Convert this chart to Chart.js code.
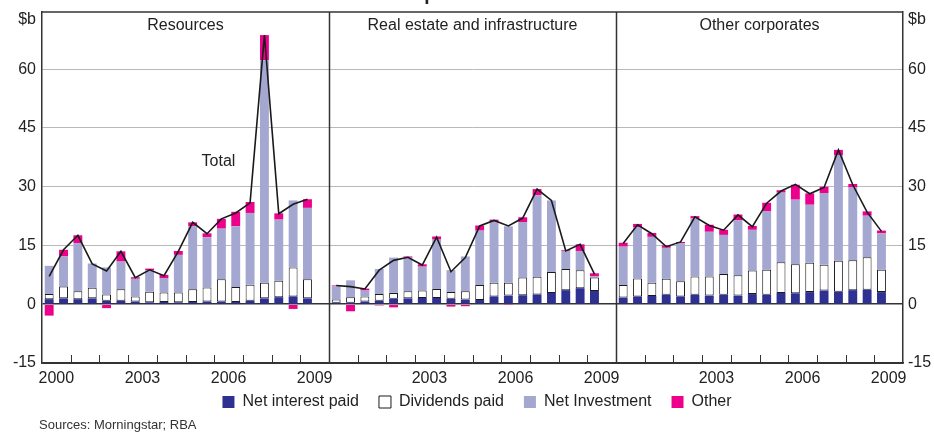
<!DOCTYPE html>
<html><head><meta charset="utf-8">
<script src="https://cdn.jsdelivr.net/npm/chart.js@4.4.1/dist/chart.umd.min.js"></script>
<style>html,body{margin:0;padding:0;background:#fff;}#wrap{width:934px;height:432px;}</style>
</head><body><div id="wrap"><canvas id="c" width="934" height="432"></canvas></div>
<script>
// ---- data ----
const chartTitle = "Listed Corporates' Uses of Funds";
const panelTitles = ['Resources', 'Real estate and infrastructure', 'Other corporates'];
const halfYears = ['2000 H1','2000 H2','2001 H1','2001 H2','2002 H1','2002 H2','2003 H1','2003 H2','2004 H1','2004 H2',
                   '2005 H1','2005 H2','2006 H1','2006 H2','2007 H1','2007 H2','2008 H1','2008 H2','2009 H1'];
const xTickLabels = [['2000','2003','2006','2009'], ['2003','2006','2009'], ['2003','2006','2009']];
const yTickValues = [-15, 0, 15, 30, 45, 60];

const resInterest   = [1.3,1.5,1.3,1.5,0.9,0.9,0.7,0.5,0.6,0.5,0.6,0.7,0.7,0.6,0.9,1.5,1.8,2.0,1.5];
const resDividends  = [1.3,3.0,2.0,2.7,1.6,2.9,1.3,2.7,2.4,2.5,3.2,3.6,5.7,3.8,4.1,4.0,4.2,7.4,4.9];
const resInvestment = [7.2,7.7,12.3,6.2,6.9,7.1,4.5,5.5,3.7,9.6,16.1,12.8,12.9,15.5,18.3,56.8,15.6,17.1,18.2];
const resOther      = [-2.9,1.7,2.0,-0.2,-1.0,2.6,0.4,0.4,0.8,1.0,1.0,1.0,2.5,3.7,2.8,6.4,1.6,-1.2,2.2];
const resTotal      = [7.1,13.9,17.6,10.3,8.5,13.5,6.8,8.8,7.3,13.5,20.9,18.0,21.8,23.3,25.9,68.7,23.1,25.5,26.8];

const reiInterest   = [0.4,0.4,0.7,0.9,1.4,1.5,1.6,1.6,1.4,1.2,1.1,2.0,2.2,2.3,2.5,2.9,3.6,4.1,3.4];
const reiDividends  = [0.8,1.4,1.3,1.7,1.5,1.8,1.9,2.3,1.7,2.1,3.8,3.5,3.3,4.5,4.5,5.3,5.4,4.6,3.4];
const reiInvestment = [3.4,4.3,1.5,6.4,9.0,8.6,6.1,12.6,5.6,8.9,13.9,15.6,14.4,14.2,20.8,18.3,4.6,4.9,0.3];
const reiOther      = [0.2,-1.8,0.5,-0.3,-0.8,0.3,0.6,0.8,-0.6,-0.5,1.3,0.5,-0.1,1.2,1.6,0.0,0.2,1.7,0.8];
const reiTotal      = [4.8,4.5,3.9,8.7,11.2,12.0,10.0,17.1,8.3,11.9,20.0,21.4,20.0,22.0,29.4,26.5,13.6,15.3,7.7];

const othInterest   = [1.7,2.0,2.1,2.4,2.0,2.4,2.2,2.4,2.2,2.6,2.4,2.9,2.8,3.1,3.5,3.2,3.6,3.7,3.1];
const othDividends  = [3.2,4.6,3.4,4.1,3.9,4.7,4.9,5.3,5.2,6.0,6.4,7.8,7.4,7.5,6.6,7.9,7.6,8.3,5.7];
const othInvestment = [9.8,13.1,11.7,7.9,9.7,14.8,11.4,10.0,14.0,10.4,15.0,17.8,16.5,14.8,18.3,27.0,18.6,10.6,9.3];
const othOther      = [1.0,0.8,1.0,0.6,0.3,0.6,1.8,1.3,1.5,1.0,2.1,0.6,3.8,2.9,1.6,1.3,0.9,1.1,0.7];
const othTotal      = [15.5,20.3,18.0,14.7,15.9,22.3,20.1,18.9,22.8,19.8,25.8,28.9,30.6,28.2,29.8,39.4,30.5,23.5,18.6];

// ---- build ----
const firstYear = 2000, slotsPerPanel = 20;
const panels = [
  {interest: resInterest, dividends: resDividends, investment: resInvestment, other: resOther, total: resTotal},
  {interest: reiInterest, dividends: reiDividends, investment: reiInvestment, other: reiOther, total: reiTotal},
  {interest: othInterest, dividends: othDividends, investment: othInvestment, other: othOther, total: othTotal}
];
const slotX = (p, i) => p * slotsPerPanel + i + 0.5;
function series(key) {
  const out = [];
  panels.forEach((p, pi) => p[key].forEach((v, i) => out.push({x: slotX(pi, i), y: v, period: halfYears[i]})));
  return out;
}
function totalSeries() {
  const out = [];
  panels.forEach((p, pi) => {
    if (pi > 0) out.push({x: pi * slotsPerPanel, y: null});
    p.total.forEach((v, i) => out.push({x: slotX(pi, i), y: v}));
  });
  return out;
}
const xTicks = [], xTickText = [];
xTickLabels.forEach((labs, pi) => labs.forEach(l => {
  xTicks.push(pi * slotsPerPanel + (parseInt(l, 10) - firstYear) * 2 + 1);
  xTickText.push(l);
}));

const FONT = "Arial, 'Liberation Sans', Helvetica, sans-serif";
Chart.defaults.font.family = FONT;
Chart.defaults.color = '#222';
const noPad = s => { s.paddingTop = 0; s.paddingBottom = 0; s.paddingLeft = 0; s.paddingRight = 0; };

const decor = {
  id: 'decor',
  afterLayout(chart) {
    const lg = chart.legend;
    if (lg) { lg.top -= 10; lg.bottom -= 10; lg.left += 10; lg.right += 10; }
  },
  afterDraw(chart) {
    const {ctx, chartArea: a, scales} = chart;
    const xs = scales.x, ys = scales.y;
    ctx.save();
    ctx.strokeStyle = '#333';
    ctx.lineWidth = 1.5;
    ctx.beginPath(); ctx.moveTo(a.left, a.top); ctx.lineTo(a.right, a.top); ctx.stroke();
    for (let p = 1; p < panels.length; p++) {
      const x = Math.round(xs.getPixelForValue(p * slotsPerPanel)) + 0.5;
      ctx.beginPath(); ctx.moveTo(x, a.top); ctx.lineTo(x, a.bottom); ctx.stroke();
    }
    ctx.lineWidth = 1;
    for (let k = 2; k < panels.length * slotsPerPanel; k += 2) {
      if (k % slotsPerPanel === 0) continue;
      const x = Math.round(xs.getPixelForValue(k)) + 0.5;
      ctx.beginPath(); ctx.moveTo(x, a.bottom); ctx.lineTo(x, a.bottom - 8); ctx.stroke();
    }
    ctx.fillStyle = '#222';
    ctx.font = '16px ' + FONT;
    ctx.textAlign = 'center'; ctx.textBaseline = 'middle';
    panelTitles.forEach((t, pi) => {
      const cx = (xs.getPixelForValue(pi * slotsPerPanel) + xs.getPixelForValue((pi + 1) * slotsPerPanel)) / 2;
      ctx.fillText(t, cx, a.top + 14);
    });
    ctx.fillText('Total', xs.getPixelForValue(12.3), ys.getPixelForValue(36.4));
    ctx.textAlign = 'right';
    ctx.fillText('$b', a.left - 6, a.top + 8);
    ctx.textAlign = 'left';
    ctx.fillText('$b', a.right + 5, a.top + 8);
    ctx.font = '13px ' + FONT;
    ctx.fillStyle = '#333';
    ctx.textBaseline = 'alphabetic';
    ctx.fillText('Sources: Morningstar; RBA', 39, 429);
    ctx.font = 'bold 19px ' + FONT;
    ctx.fillStyle = '#222';
    ctx.textAlign = 'center';
    ctx.fillText(chartTitle, 482, 0);
    ctx.restore();
  }
};

new Chart(document.getElementById('c'), {
  type: 'bar',
  data: {
    datasets: [
      {label: 'Net interest paid', data: series('interest'), backgroundColor: '#2e3192', borderWidth: 0, stack: 'uses', order: 1},
      {label: 'Dividends paid', data: series('dividends'), backgroundColor: '#ffffff', borderColor: '#1a1a1a', borderWidth: 1, borderSkipped: false, stack: 'uses', order: 1},
      {label: 'Net Investment', data: series('investment'), backgroundColor: '#a4a7cf', borderWidth: 0, stack: 'uses', order: 1},
      {label: 'Other', data: series('other'), backgroundColor: '#ec008c', borderWidth: 0, stack: 'uses', order: 1},
      {type: 'line', label: 'Total', data: totalSeries(), borderColor: '#1a1a1a', borderWidth: 1.6, pointRadius: 0, tension: 0, spanGaps: false, order: 0}
    ]
  },
  options: {
    responsive: false, animation: false, devicePixelRatio: 1,
    layout: {padding: {top: 12, bottom: 2, left: 0, right: 0}},
    datasets: {bar: {barPercentage: 0.62, categoryPercentage: 1}},
    plugins: {
      tooltip: {enabled: false},
      title: {display: false},
      legend: {
        position: 'bottom',
        labels: {
          boxWidth: 12, boxHeight: 12, padding: 20, color: '#222', font: {size: 16},
          filter: item => item.text !== 'Total'
        }
      }
    },
    scales: {
      x: {
        type: 'linear', min: 0, max: panels.length * slotsPerPanel, offset: false,
        grid: {display: false, drawTicks: false, offset: false},
        border: {display: true, color: '#333', width: 1.5},
        afterBuildTicks: s => { s.ticks = xTicks.map(v => ({value: v})); },
        ticks: {autoSkip: false, maxRotation: 0, padding: 6, font: {size: 16}, color: '#222',
                callback: (v, i) => xTickText[i]},
        afterFit: s => { s.height = 21; noPad(s); }
      },
      y: {
        position: 'left', min: -15, max: 74.6, stacked: true,
        afterBuildTicks: s => { s.ticks = yTickValues.map(v => ({value: v})); },
        grid: {drawTicks: false, color: c => (c.tick && (c.tick.value === 0 || c.tick.value === -15)) ? '#333' : '#b9b9b9',
               lineWidth: c => (c.tick && c.tick.value === 0) ? 1.5 : 1},
        border: {display: true, color: '#333', width: 1.5},
        ticks: {padding: 6, font: {size: 16}, color: '#222'},
        afterFit: s => { s.width = 42; noPad(s); }
      },
      y2: {
        position: 'right', min: -15, max: 74.6,
        afterBuildTicks: s => { s.ticks = yTickValues.map(v => ({value: v})); },
        grid: {display: false, drawTicks: false},
        border: {display: true, color: '#333', width: 1.5},
        ticks: {padding: 5, font: {size: 16}, color: '#222'},
        afterFit: s => { s.width = 31; noPad(s); }
      }
    }
  },
  plugins: [decor]
});
</script></body></html>
